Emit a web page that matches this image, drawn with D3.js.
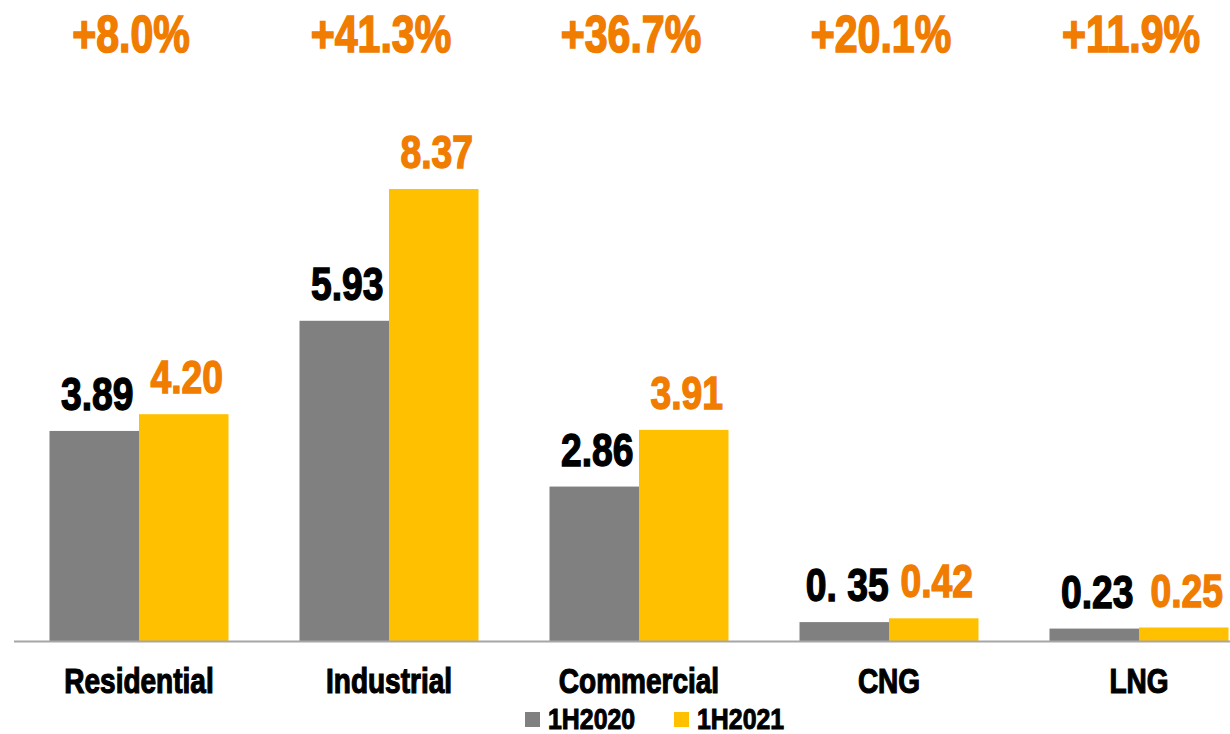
<!DOCTYPE html>
<html>
<head>
<meta charset="utf-8">
<script src="https://cdn.jsdelivr.net/npm/d3@7"></script>
<style>
  html, body { margin: 0; padding: 0; background: #fff; }
  svg { display: block; }
  text { font-family: "Liberation Sans", Arial, sans-serif; font-weight: bold; }
</style>
</head>
<body>
<svg id="chart" width="1230" height="734"></svg>
<script>
const categories = ["Residential", "Industrial", "Commercial", "CNG", "LNG"];
const seriesNames = ["1H2020", "1H2021"];
const values2020 = [3.89, 5.93, 2.86, 0.35, 0.23];
const values2021 = [4.20, 8.37, 3.91, 0.42, 0.25];
const labels2020 = ["3.89", "5.93", "2.86", "0. 35", "0.23"];
const labels2021 = ["4.20", "8.37", "3.91", "0.42", "0.25"];
const growthLabels = ["+8.0%", "+41.3%", "+36.7%", "+20.1%", "+11.9%"];

const colors = { "1H2020": "#808080", "1H2021": "#FFC000" };
const labelColors = { "1H2020": "#000000", "1H2021": "#F07C00" };

const svg = d3.select("#chart");
const baseY = 641;

const x = d3.scaleBand().domain(categories).range([14, 1264]).paddingInner(0.284).paddingOuter(0.142);
const xs = d3.scaleBand().domain(seriesNames).range([0, x.bandwidth()]);
const y = d3.scaleLinear().domain([0, 10]).range([baseY, 101]);

const data = categories.map((c, i) => ({
  cat: c,
  items: [
    { s: "1H2020", v: values2020[i], label: labels2020[i] },
    { s: "1H2021", v: values2021[i], label: labels2021[i] }
  ],
  growth: growthLabels[i]
}));

// condensed text helper: place at (px,py) and squeeze horizontally
function squeeze(sel, px, py, sx) {
  sel.attr("x", 0).attr("y", 0)
     .attr("transform", (d, i) => `translate(${px(d, i)},${py(d, i)}) scale(${sx},1)`);
}

const g = svg.append("g");
const groups = g.selectAll("g.cat").data(data).join("g")
  .attr("class", "cat")
  .attr("transform", d => `translate(${x(d.cat)},0)`);

groups.selectAll("rect").data(d => d.items).join("rect")
  .attr("x", d => xs(d.s))
  .attr("y", d => y(d.v))
  .attr("width", xs.bandwidth())
  .attr("height", d => baseY - y(d.v))
  .attr("fill", d => colors[d.s]);

groups.selectAll("text.val").data(d => d.items).join("text")
  .attr("class", "val")
  .attr("text-anchor", "middle")
  .attr("font-size", 46)
  .attr("fill", d => labelColors[d.s])
  .attr("stroke", d => labelColors[d.s])
  .attr("stroke-width", 1.4)
  .text(d => d.label)
  .call(squeeze, d => xs(d.s) + xs.bandwidth() / 2 + 3, d => y(d.v) - 21, 0.81);

// axis line
svg.append("line")
  .attr("x1", 14).attr("x2", 1230)
  .attr("y1", baseY + 0.5).attr("y2", baseY + 0.5)
  .attr("stroke", "#A6A6A6").attr("stroke-width", 2);

// category labels via axis
const xAxis = d3.axisBottom(x).tickSize(0).tickPadding(0);
const ax = svg.append("g").attr("transform", `translate(0,${baseY})`).call(xAxis);
ax.select(".domain").remove();
ax.selectAll(".tick text")
  .attr("dy", 0)
  .attr("font-size", 35)
  .attr("font-family", null)
  .attr("fill", "#000")
  .attr("stroke", "#000")
  .attr("stroke-width", 1.2)
  .call(squeeze, () => 0, () => 52, 0.8);

// growth labels
svg.selectAll("text.growth").data(data).join("text")
  .attr("class", "growth")
  .attr("text-anchor", "middle")
  .attr("font-size", 52)
  .attr("fill", "#F07C00")
  .attr("stroke", "#F07C00")
  .attr("stroke-width", 1.6)
  .text(d => d.growth)
  .call(squeeze, d => x(d.cat) + x.bandwidth() / 2 - 8, () => 52, 0.79);

// legend
const legendX = [525, 674];
const leg = svg.selectAll("g.leg").data(seriesNames).join("g")
  .attr("class", "leg")
  .attr("transform", (d, i) => `translate(${legendX[i]},711)`);
leg.append("rect").attr("y", 1).attr("width", 15).attr("height", 15).attr("fill", d => colors[d]);
leg.append("text")
  .attr("font-size", 30)
  .attr("fill", "#000")
  .attr("stroke", "#000")
  .attr("stroke-width", 1)
  .text(d => d)
  .call(squeeze, () => 23, () => 18, 0.83);
</script>
</body>
</html>
